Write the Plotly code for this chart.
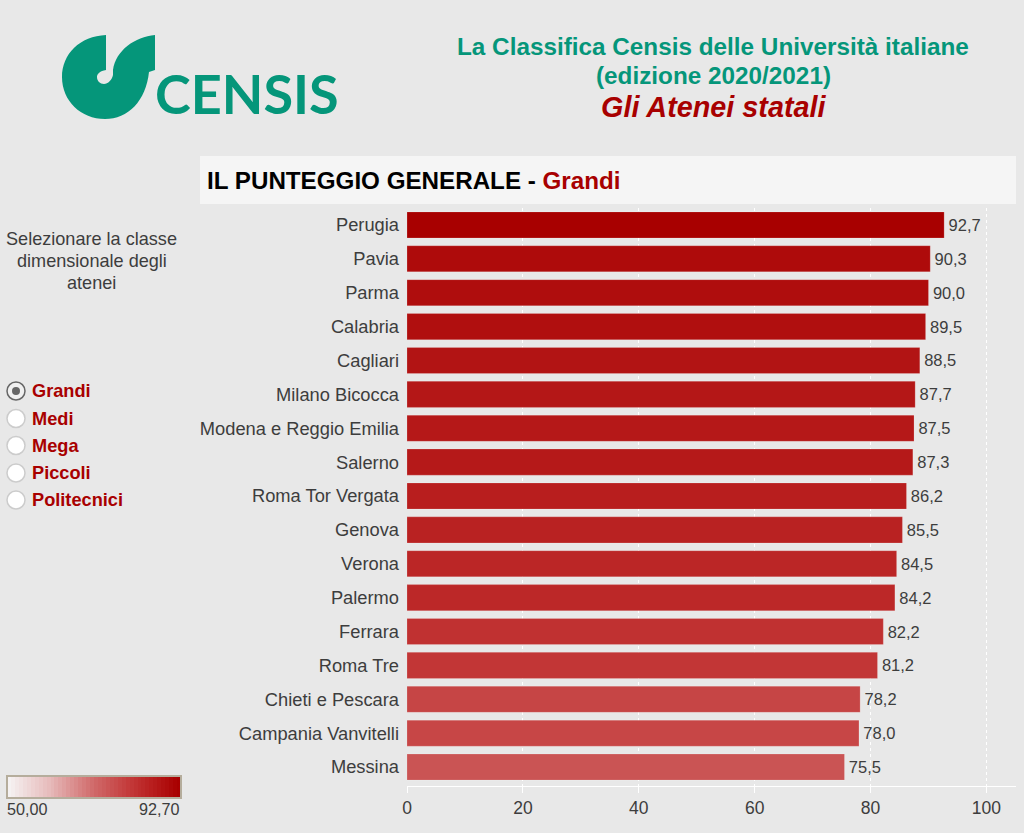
import plotly.graph_objects as go

atenei = ["Perugia", "Pavia", "Parma", "Calabria", "Cagliari", "Milano Bicocca",
          "Modena e Reggio Emilia", "Salerno", "Roma Tor Vergata", "Genova", "Verona",
          "Palermo", "Ferrara", "Roma Tre", "Chieti e Pescara", "Campania Vanvitelli",
          "Messina"]
punteggi = [92.7, 90.3, 90.0, 89.5, 88.5, 87.7, 87.5, 87.3, 86.2, 85.5, 84.5, 84.2,
            82.2, 81.2, 78.2, 78.0, 75.5]
classi = ["Grandi", "Medi", "Mega", "Piccoli", "Politecnici"]
x_ticks = [0, 20, 40, 60, 80, 100]
scala = [50, 51, 52, 53, 54, 55, 56, 57, 58, 59, 60, 61, 62, 63, 64, 65, 66, 67, 68, 69, 70, 71,
         72, 73, 74, 75, 76, 77, 78, 79, 80, 81, 82, 83, 84, 85, 86, 87, 88, 89, 90, 91, 92, 92.7]

W = 1024
H = 833
GREEN = "#05967a"
RED = "#a80000"
TEXT = "#3d3d3d"
FONT = "Liberation Sans"


# all the page furniture is placed in pixels of the screenshot
def px(x):
    return x / W


def py(y):
    return 1 - y / H


def path(points):
    out = ""
    for cmd, coords in points:
        out += cmd + " ".join(f"{px(coords[i]):.5f},{py(coords[i + 1]):.5f}" for i in range(0, len(coords), 2))
    return out + "Z"


def label(x, y, text, size=16, color=TEXT, anchor="center", family=FONT):
    return dict(x=px(x), y=py(y), xref="paper", yref="paper", text=text, showarrow=False,
                xanchor=anchor, yanchor="middle", font=dict(family=family, size=size, color=color))


def circle(cx, cy, r, fill, line, width=1.5):
    return dict(type="circle", xref="paper", yref="paper", x0=px(cx - r), x1=px(cx + r),
                y0=py(cy + r), y1=py(cy - r), fillcolor=fill, line=dict(color=line, width=width))


logo = path([
    ("M", [106, 35]),
    ("C", [80, 36, 62, 54, 62, 77]),
    ("C", [62, 101, 81, 119, 105, 119]),
    ("C", [128, 119, 146, 101, 149, 72]),
    ("L", [155, 70]),
    ("L", [155, 35]),
    ("C", [135, 37, 116, 50, 113, 70]),
    ("L", [113, 75]),
    ("C", [112, 80, 108, 84, 104, 84]),
    ("C", [100, 84, 97, 81, 97, 77]),
    ("C", [97, 74, 100, 71, 106, 70]),
])

shapes = [
    dict(type="rect", xref="paper", yref="paper", x0=px(200), x1=px(1016), y0=py(204), y1=py(156),
         fillcolor="#f5f5f5", line=dict(width=0), layer="below"),
    dict(type="path", xref="paper", yref="paper", path=logo, fillcolor=GREEN, line=dict(width=0)),
    dict(type="rect", xref="paper", yref="paper", x0=px(7), x1=px(181), y0=py(798), y1=py(776),
         fillcolor="rgba(0,0,0,0)", line=dict(color="#b5ad9c", width=2)),
]

annotations = [
    label(713, 46, "<b>La Classifica Censis delle Università italiane</b>", 24.3, GREEN),
    label(713, 75, "<b>(edizione 2020/2021)</b>", 24.3, GREEN),
    label(714, 107, "<b><i>Gli Atenei statali</i></b>", 28.8, RED),
    label(153, 93, "<b>CENSIS</b>", 54, GREEN, "left", "Lato"),
    label(205, 180, f'<b>IL PUNTEGGIO GENERALE - <span style="color:{RED}">{classi[0]}</span></b>', 24.2, "#000000", "left"),
    label(91.5, 239, "Selezionare la classe", 18.1),
    label(91.5, 261, "dimensionale degli", 18.1),
    label(91.5, 283, "atenei", 18.1),
    label(5, 809, "50,00", 16.2, TEXT, "left"),
    label(182, 809, "92,70", 16.2, TEXT, "right"),
]

radio_y = [391, 418.5, 445.5, 473, 500]
for i, nome in enumerate(classi):
    annotations.append(label(30, radio_y[i], f"<b>{nome}</b>", 18.2, RED, "left"))
    if i == 0:
        shapes.append(circle(16, radio_y[i], 9, "#f0f0f0", "#666666"))
        shapes.append(circle(16, radio_y[i], 4, "#666666", "#666666", 0))
    else:
        shapes.append(circle(16, radio_y[i], 9, "#ffffff", "#cccccc"))

colorscale = [[0, "#f5f2f2"], [0.25, "#e6b8b8"], [0.5, "#d06a6a"], [0.7, "#c43c3c"], [0.85, "#b81e1e"], [1, RED]]

fig = go.Figure()
fig.add_trace(go.Bar(
    x=punteggi,
    y=atenei,
    orientation="h",
    width=0.77,
    text=["\u200a" + f"{v:.1f}".replace(".", ",") for v in punteggi],
    textposition="outside",
    cliponaxis=False,
    textfont=dict(family=FONT, size=16.5, color=TEXT),
    marker=dict(
        color=punteggi,
        colorscale=colorscale,
        cmin=50,
        cmax=92.7,
        line=dict(width=0.5, color="rgba(255,255,255,0.35)"),
    ),
))
# colour legend bottom left, drawn as a one row heatmap
fig.add_trace(go.Heatmap(
    z=[scala],
    xaxis="x2",
    yaxis="y2",
    colorscale=colorscale,
    zmin=50,
    zmax=92.7,
    showscale=False,
    hoverinfo="skip",
))

fig.update_layout(
    width=W,
    height=H,
    autosize=False,
    margin=dict(l=0, r=0, t=0, b=0, autoexpand=False),
    paper_bgcolor="#e8e8e8",
    plot_bgcolor="#e8e8e8",
    showlegend=False,
    shapes=shapes,
    annotations=annotations,
    font=dict(family=FONT, color=TEXT),
    xaxis=dict(
        domain=[px(407), px(1016)],
        range=[0, 105.1],
        tickvals=x_ticks,
        showgrid=True,
        gridcolor="#ffffff",
        griddash="dot",
        gridwidth=1,
        zeroline=False,
        showline=True,
        linecolor="#ffffff",
        ticks="outside",
        tickcolor="#ffffff",
        ticklen=6,
        tickfont=dict(size=17.5, color=TEXT),
    ),
    yaxis=dict(
        domain=[py(785.7), py(208)],
        range=[16.55, -0.5],
        showgrid=False,
        zeroline=False,
        showline=False,
        ticks="",
        ticklabelstandoff=7,
        tickfont=dict(size=18.3, color=TEXT),
    ),
    xaxis2=dict(domain=[px(7), px(181)], anchor="y2", visible=False),
    yaxis2=dict(domain=[py(798), py(776)], anchor="x2", visible=False),
)

fig.write_html("out.html", config={"displayModeBar": False},
               post_script="document.body.style.margin='0';")
